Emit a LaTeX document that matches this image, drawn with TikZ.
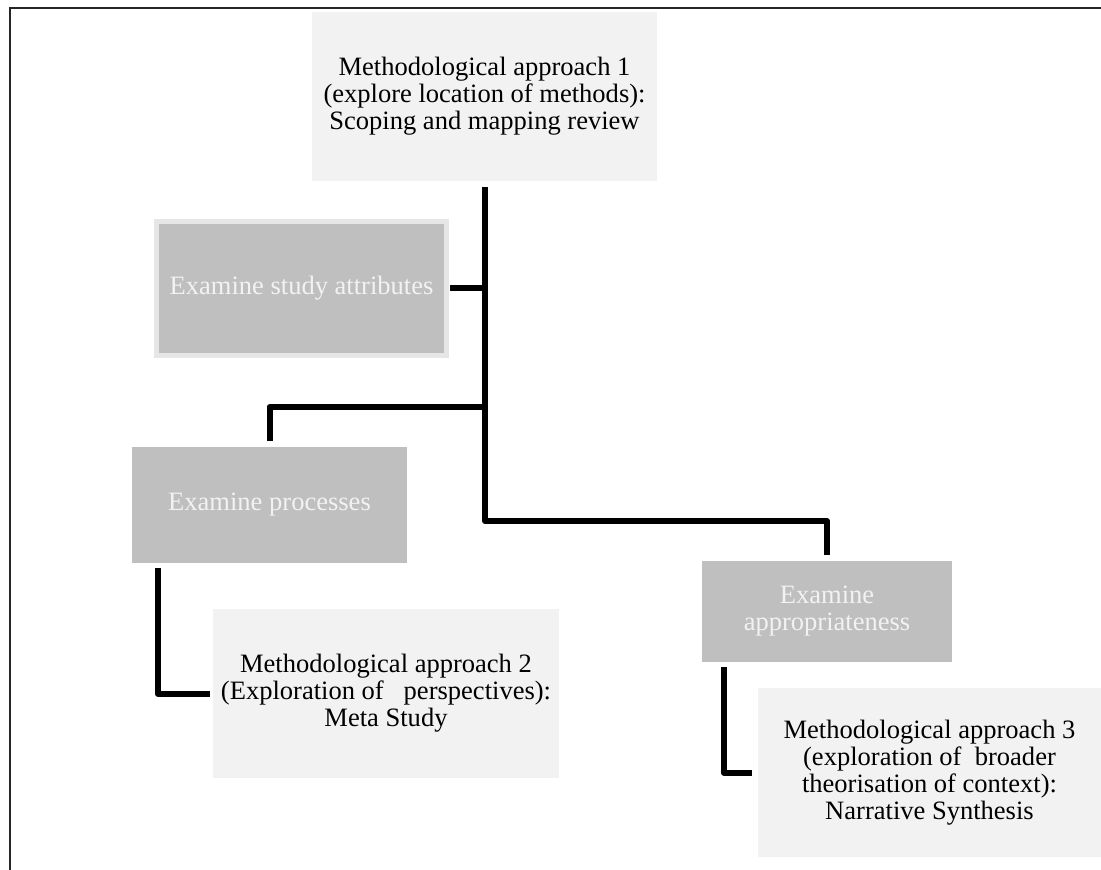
\documentclass[tikz,border=0pt]{standalone}
\usepackage{fontspec}
\setmainfont{Liberation Serif}
\usetikzlibrary{calc}
\definecolor{pale}{HTML}{F2F2F2}
\definecolor{mid}{HTML}{BFBFBF}
\definecolor{rim}{HTML}{E6E6E6}
\begin{document}
\begin{tikzpicture}[x=0.75pt,y=-0.75pt,
  every node/.style={inner sep=0pt, align=center,
    font=\fontsize{19.9pt}{20.3pt}\selectfont},
  method/.style={fill=pale, text=black},
  stage/.style={fill=mid, text=pale},
  link/.style={line width=4.5pt, line join=round, line cap=butt}]
\useasboundingbox (0,0) rectangle (1101,870);

% outer frame
\draw[line width=1.5pt, black!85] (9.5,870) -- (9.5,8.5) -- (1101,8.5);

% boxes
\node[method, minimum width=258.75pt, minimum height=126.75pt] (top) at (484.5,96.5)
  {Methodological approach 1\\(explore location of methods):\\Scoping and mapping review};
\node[stage, draw=rim, line width=3.75pt, minimum width=216.9pt, minimum height=99.9pt] (attr) at (301.5,288.5)
  {Examine study attributes};
\node[stage, minimum width=206.25pt, minimum height=87pt] (proc) at (269.5,505)
  {Examine processes};
\node[method, minimum width=259.5pt, minimum height=126.75pt] (meta) at (386,693.5)
  {Methodological approach 2\\(Exploration of\ \ \ perspectives):\\Meta Study};
\node[stage, minimum width=187.5pt, minimum height=75.75pt] (appr) at (827,611.5)
  {Examine\\appropriateness};
\node[method, minimum width=257.25pt, minimum height=126.75pt] (narr) at (929.5,772.5)
  {Methodological approach 3\\(exploration of\ \ broader\\theorisation of context):\\Narrative Synthesis};

% junctions on the trunk
\coordinate (fork) at (485,521);
\coordinate (branch) at (485,407);

% connectors
\draw[link] ($(top.south)+(0.5,6)$) -- (fork) -| ($(appr.north)+(0,-6)$);
\draw[link] ($(attr.east)+(1.5,0)$) -- (attr.east -| fork);
\draw[link] (branch) -| ($(proc.north)+(0,-6)$);
\draw[link] ($(proc.south west)+(26,5)$) |- ($(meta.west)+(-3,0)$);
\draw[link] ($(appr.south west)+(22,5)$) |- ($(narr.west)+(-6,0)$);
\end{tikzpicture}
\end{document}
